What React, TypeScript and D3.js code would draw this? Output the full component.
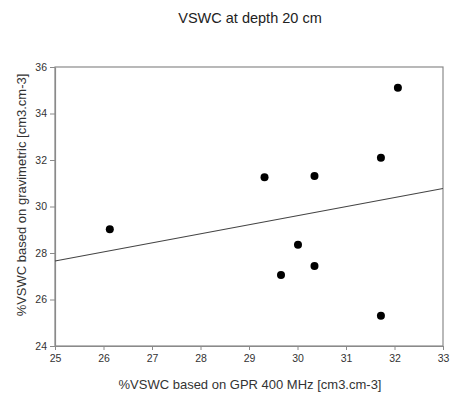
import { useEffect, useRef } from 'react';
import * as d3 from 'd3';

// values
const gprVswc = [26.13, 29.32, 30.35, 31.72, 32.07, 30.01, 30.35, 29.66, 31.72];
const gravVswc = [29.02, 31.26, 31.31, 32.10, 35.11, 28.36, 27.44, 27.05, 25.30];
const xTickValues = [25, 26, 27, 28, 29, 30, 31, 32, 33];
const yTickValues = [24, 26, 28, 30, 32, 34, 36];

const TITLE = 'VSWC at depth 20 cm';
const X_LABEL = '%VSWC based on GPR 400 MHz [cm3.cm-3]';
const Y_LABEL = '%VSWC based on gravimetric [cm3.cm-3]';

export default function App() {
  const svgRef = useRef<SVGSVGElement | null>(null);

  useEffect(() => {
    if (!svgRef.current) return;
    const svg = d3.select(svgRef.current);
    svg.selectAll('*').remove();

    const margin = { top: 67, right: 7, bottom: 50, left: 55 };
    const W = 450;
    const H = 396;
    const width = W - margin.left - margin.right;
    const height = H - margin.top - margin.bottom;
    const font = 'Liberation Sans, Arial, sans-serif';

    svg.append('rect').attr('width', W).attr('height', H).attr('fill', '#fff');

    // title
    svg.append('text')
      .attr('x', 250)
      .attr('y', 23)
      .attr('text-anchor', 'middle')
      .attr('font-family', font)
      .attr('font-size', 14.5)
      .attr('fill', '#222')
      .text(TITLE);

    const g = svg.append('g')
      .attr('transform', `translate(${margin.left},${margin.top})`);

    const xScale = d3.scaleLinear().domain([25, 33]).range([0, width]);
    const yScale = d3.scaleLinear().domain([24, 36]).range([height, 0]);

    // frame
    g.append('rect')
      .attr('x', 0)
      .attr('y', 0)
      .attr('width', width)
      .attr('height', height)
      .attr('fill', 'none')
      .attr('stroke', '#8a8a8a')
      .attr('stroke-width', 1.2);

    // axes
    const xAxis = g.append('g')
      .attr('transform', `translate(0,${height})`)
      .call(d3.axisBottom(xScale).tickValues(xTickValues).tickSize(4).tickSizeOuter(0).tickPadding(5));
    const yAxis = g.append('g')
      .call(d3.axisLeft(yScale).tickValues(yTickValues).tickSize(5).tickSizeOuter(0).tickPadding(3));

    [xAxis, yAxis].forEach(ax => {
      ax.select('.domain').attr('stroke', '#8a8a8a').attr('stroke-width', 1.2);
      ax.selectAll('.tick line').attr('stroke', '#8a8a8a');
      ax.selectAll('.tick text')
        .attr('font-family', font)
        .attr('font-size', 10.5)
        .attr('fill', '#333');
    });

    // axis titles
    g.append('text')
      .attr('x', 250 - margin.left)
      .attr('y', height + 43)
      .attr('text-anchor', 'middle')
      .attr('font-family', font)
      .attr('font-size', 13)
      .attr('fill', '#333')
      .text(X_LABEL);

    g.append('text')
      .attr('transform', 'rotate(-90)')
      .attr('x', -(195 - margin.top))
      .attr('y', -29)
      .attr('text-anchor', 'middle')
      .attr('font-family', font)
      .attr('font-size', 13)
      .attr('fill', '#333')
      .text(Y_LABEL);

    // least squares line
    const n = gprVswc.length;
    const mx = d3.mean(gprVswc) as number;
    const my = d3.mean(gravVswc) as number;
    let sxy = 0;
    let sxx = 0;
    for (let i = 0; i < n; i++) {
      sxy += (gprVswc[i] - mx) * (gravVswc[i] - my);
      sxx += (gprVswc[i] - mx) * (gprVswc[i] - mx);
    }
    const slope = sxy / sxx;
    const intercept = my - slope * mx;

    g.append('line')
      .attr('x1', xScale(25))
      .attr('y1', yScale(slope * 25 + intercept))
      .attr('x2', xScale(33))
      .attr('y2', yScale(slope * 33 + intercept))
      .attr('stroke', '#444')
      .attr('stroke-width', 1.1);

    // points
    g.selectAll('.dot')
      .data(gprVswc.map((x, i) => ({ x, y: gravVswc[i] })))
      .enter()
      .append('circle')
      .attr('class', 'dot')
      .attr('cx', d => xScale(d.x))
      .attr('cy', d => yScale(d.y))
      .attr('r', 4)
      .attr('fill', '#000');
  }, []);

  return (
    <svg
      ref={svgRef}
      width={450}
      height={396}
      style={{ position: 'absolute', left: 0, top: 0, display: 'block' }}
    />
  );
}
